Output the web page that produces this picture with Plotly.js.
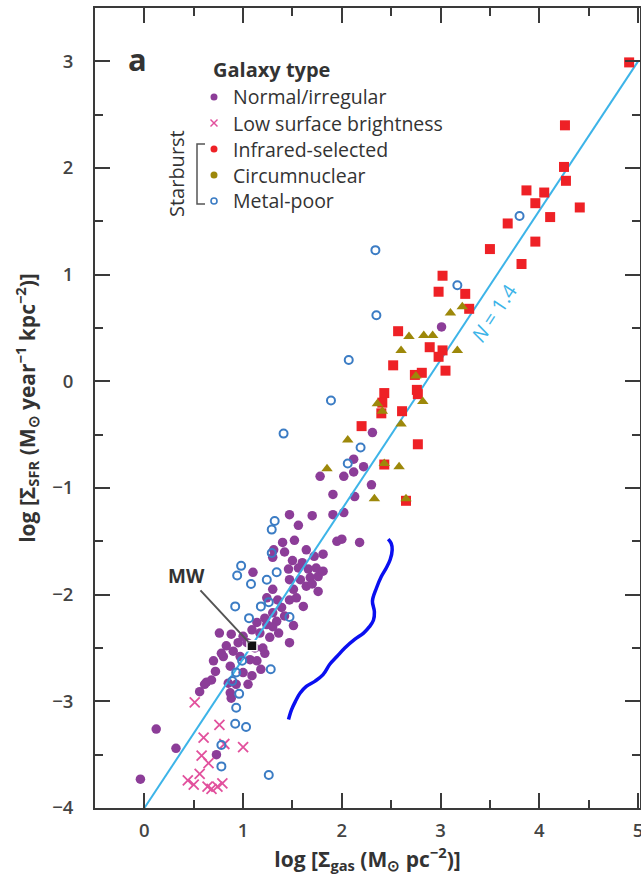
<!DOCTYPE html>
<html>
<head>
<meta charset="utf-8">
<script src="https://cdn.plot.ly/plotly-3.0.1.min.js"></script>
<style>
  html, body { margin: 0; padding: 0; background: #fff; }
  #chart { width: 641px; height: 884px; }
</style>
</head>
<body>
<div id="chart"></div>
<script>
// log Σgas (M⊙ pc^-2), log ΣSFR (M⊙ yr^-1 kpc^-2) per galaxy class
const normalPts = [
  [-0.04,-3.73],[0.12,-3.26],[0.32,-3.44],[0.73,-3.50],[0.56,-2.91],[0.63,-2.82],[0.68,-2.80],[0.88,-2.97],
  [0.61,-2.84],[0.85,-2.83],[0.93,-2.84],[0.87,-2.92],[1.05,-2.84],[1.00,-2.73],[1.09,-2.76],[0.87,-2.67],
  [0.80,-2.58],[0.97,-2.58],[1.07,-2.61],[1.14,-2.62],[0.83,-2.48],[0.90,-2.53],[1.20,-2.50],[1.22,-2.55],
  [0.78,-2.55],[0.76,-2.36],[0.88,-2.37],[1.00,-2.39],[1.09,-2.33],[1.17,-2.36],[1.27,-2.40],[1.36,-2.36],
  [1.47,-2.45],[1.14,-2.26],[1.24,-2.28],[1.34,-2.25],[1.51,-2.29],[1.22,-2.22],[1.30,-2.17],[1.39,-2.12],
  [1.24,-2.03],[1.47,-2.05],[1.54,-2.03],[1.61,-2.11],[1.51,-1.95],[1.64,-1.92],[1.76,-1.97],[1.30,-1.95],
  [1.47,-1.86],[1.58,-1.86],[1.68,-1.84],[1.76,-1.83],[1.10,-1.79],[1.46,-1.76],[1.56,-1.75],[1.66,-1.76],
  [1.74,-1.75],[1.81,-1.78],[1.30,-1.65],[1.42,-1.60],[1.64,-1.58],[1.72,-1.64],[1.81,-1.62],[1.31,-1.58],
  [1.40,-1.51],[1.52,-1.49],[1.95,-1.50],[2.00,-1.48],[2.18,-1.51],[1.47,-1.25],[1.56,-1.35],[1.70,-1.26],
  [1.91,-1.25],[2.02,-1.23],[1.91,-1.06],[2.13,-1.08],[1.78,-0.89],[2.02,-0.89],[2.12,-0.85],[2.22,-0.80],
  [2.12,-0.73],[2.30,-0.97],[2.31,-0.48],[3.01,0.51],[1.04,-2.45],[1.12,-2.50],[1.30,-2.30],[1.42,-2.20],
  [1.35,-2.05],[1.60,-1.70],[1.50,-1.68],[1.70,-1.90],[0.95,-2.45],[1.18,-2.70],[0.70,-2.62],[0.72,-2.72]
];
const lowSurfacePts = [
  [0.51,-3.01],[0.76,-3.22],[0.60,-3.34],[0.81,-3.40],[1.00,-3.43],[0.58,-3.51],[0.65,-3.58],
  [0.56,-3.68],[0.44,-3.74],[0.50,-3.78],[0.64,-3.80],[0.74,-3.80],[0.79,-3.77],[0.68,-3.82]
];
const infraredPts = [
  [4.91,2.99],[4.26,2.40],[4.25,2.01],[4.27,1.88],[3.87,1.79],[4.05,1.77],[3.96,1.67],[4.41,1.63],
  [4.11,1.54],[3.68,1.48],[3.96,1.31],[3.50,1.24],[3.82,1.10],[3.02,0.99],[2.98,0.84],[3.25,0.82],
  [3.29,0.68],[2.57,0.47],[2.89,0.32],[3.02,0.29],[2.98,0.23],[2.52,0.15],[3.05,0.10],[2.74,0.06],
  [2.81,0.08],[2.76,-0.08],[2.77,-0.12],[2.43,-0.11],[2.41,-0.20],[2.40,-0.30],[2.61,-0.28],[2.20,-0.42],
  [2.77,-0.59],[2.43,-0.78],[2.65,-1.12]
];
const circumnuclearPts = [
  [3.10,0.64],[3.22,0.70],[2.68,0.42],[2.83,0.43],[2.92,0.43],[2.60,0.29],[3.17,0.29],[2.75,0.05],
  [2.82,-0.19],[2.36,-0.21],[2.41,-0.28],[2.60,-0.40],[2.06,-0.55],[1.85,-0.82],[2.43,-0.77],[2.58,-0.80],
  [2.33,-1.10],[2.65,-1.10]
];
const metalPoorPts = [
  [3.80,1.55],[3.17,0.90],[2.34,1.23],[2.35,0.62],[2.07,0.20],[1.89,-0.18],[2.19,-0.62],[2.06,-0.77],
  [1.41,-0.49],[1.32,-1.31],[1.29,-1.39],[1.29,-1.61],[0.98,-1.73],[0.94,-1.82],[1.08,-1.90],[1.24,-1.86],
  [1.34,-1.79],[0.92,-2.11],[1.18,-2.11],[1.26,-2.07],[1.06,-2.22],[1.47,-2.21],[0.99,-2.62],[0.93,-2.73],
  [1.28,-2.70],[0.89,-2.81],[0.96,-2.93],[0.93,-3.06],[0.92,-3.21],[1.03,-3.24],[0.78,-3.41],[0.78,-3.61],
  [1.26,-3.69]
];
// Milky Way
const mwX = [1.09];
const mwY = [-2.48];
// Kennicutt–Schmidt relation, slope N = 1.4
const fitX = [0.0, 5.0];
const fitY = [-4.0, 3.0];
// freehand pen stroke
const strokePts = [
  [2.47,-1.48],[2.50,-1.52],[2.51,-1.58],[2.49,-1.67],[2.45,-1.75],[2.40,-1.83],[2.35,-1.94],[2.31,-2.06],
  [2.33,-2.16],[2.32,-2.24],[2.28,-2.30],[2.22,-2.36],[2.13,-2.42],[2.03,-2.50],[1.95,-2.58],[1.88,-2.65],
  [1.81,-2.75],[1.73,-2.81],[1.64,-2.86],[1.58,-2.92],[1.53,-3.00],[1.49,-3.08],[1.46,-3.17]
];
const xTicks = [0, 1, 2, 3, 4, 5];
const yTicks = [-4, -3, -2, -1, 0, 1, 2, 3];
const legendNames = ['Normal/irregular', 'Low surface brightness', 'Infrared-selected', 'Circumnuclear', 'Metal-poor'];

const COL = {
  normal: '#8c3d98',
  lsb: '#e2519d',
  ir: '#ee2126',
  circ: '#9d880a',
  metal: '#3b7cc4',
  fit: '#3db4e8',
  axis: '#3a3a3a',
  text: '#333333'
};
const FONT = 'Open Sans, Noto Sans, sans-serif';

const xs = p => p.map(d => d[0]);
const ys = p => p.map(d => d[1]);

const traces = [
  { x: xs(normalPts), y: ys(normalPts), mode: 'markers', type: 'scatter', name: legendNames[0],
    marker: { symbol: 'circle', size: 9.5, color: COL.normal } },
  { x: xs(lowSurfacePts), y: ys(lowSurfacePts), mode: 'markers', type: 'scatter', name: legendNames[1],
    marker: { symbol: 'x-thin', size: 10, line: { width: 1.8, color: COL.lsb }, color: COL.lsb } },
  { x: fitX, y: fitY, mode: 'lines', type: 'scatter', name: 'N = 1.4',
    line: { color: COL.fit, width: 2 } },
  { x: xs(infraredPts), y: ys(infraredPts), mode: 'markers', type: 'scatter', name: legendNames[2],
    marker: { symbol: 'square', size: 10, color: COL.ir } },
  { x: xs(circumnuclearPts), y: ys(circumnuclearPts), mode: 'markers', type: 'scatter', name: legendNames[3],
    marker: { symbol: 'triangle-up', size: 10, color: COL.circ } },
  { x: xs(metalPoorPts), y: ys(metalPoorPts), mode: 'markers', type: 'scatter', name: legendNames[4],
    marker: { symbol: 'circle-open', size: 8, line: { width: 2, color: COL.metal }, color: COL.metal } },
  { x: mwX, y: mwY, mode: 'markers', type: 'scatter', name: 'MW',
    marker: { symbol: 'square', size: 10, color: '#111', line: { width: 1.5, color: '#fff' } } },
  { x: xs(strokePts), y: ys(strokePts), mode: 'lines', type: 'scatter', name: 'stroke',
    line: { color: '#0a0ff0', width: 3.5, shape: 'spline' } }
];

// ---- figure key: hand-set block in the upper left of the panel ----
const PLOT = { l: 95, t: 8, w: 545, h: 800 };
const px2x = p => (p - PLOT.l) / PLOT.w;
const px2y = p => 1 - (p - PLOT.t) / PLOT.h;
const keyRowsPx = [97, 123, 149, 175, 201];
const keyMarkX = px2x(214);
const keyTextX = px2x(231);

const keyShapes = [];
keyRowsPx.forEach((rowPx, i) => {
  const base = { xref: 'paper', yref: 'paper', xsizemode: 'pixel', ysizemode: 'pixel',
    xanchor: keyMarkX, yanchor: px2y(rowPx) };
  const r = 3.5;
  if (i === 1) {
    keyShapes.push(Object.assign({}, base, { type: 'line', x0: -r, x1: r, y0: -r, y1: r,
      line: { color: COL.lsb, width: 1.5 } }));
    keyShapes.push(Object.assign({}, base, { type: 'line', x0: -r, x1: r, y0: r, y1: -r,
      line: { color: COL.lsb, width: 1.5 } }));
  } else if (i === 4) {
    keyShapes.push(Object.assign({}, base, { type: 'circle', x0: -3, x1: 3, y0: -3, y1: 3,
      fillcolor: '#fff', line: { color: COL.metal, width: 1.6 } }));
  } else {
    const c = [COL.normal, null, COL.ir, COL.circ][i];
    keyShapes.push(Object.assign({}, base, { type: 'circle', x0: -r, x1: r, y0: -r, y1: r,
      fillcolor: c, line: { width: 0 } }));
  }
});
// bracket grouping the starburst classes
keyShapes.push({ type: 'path', xref: 'paper', yref: 'paper',
  path: `M ${px2x(205)} ${px2y(144)} L ${px2x(197)} ${px2y(144)} L ${px2x(197)} ${px2y(204)} L ${px2x(205)} ${px2y(204)}`,
  line: { color: '#555', width: 1.5 } });

const keyTexts = legendNames.map((name, i) => ({
  xref: 'paper', yref: 'paper', x: keyTextX, y: px2y(keyRowsPx[i]), xanchor: 'left', yanchor: 'middle',
  text: name, showarrow: false, font: { family: FONT, size: 19.5, color: COL.text }
}));

const axisCommon = {
  showgrid: false, zeroline: false, showline: true, linecolor: COL.axis, linewidth: 2,
  mirror: 'ticks', ticks: 'inside', ticklen: 15, tickwidth: 2, tickcolor: COL.axis,
  ticklabeloverflow: 'allow',
  tickfont: { family: FONT, size: 18.5, color: '#444', weight: 600 },
  minor: { dtick: 0.5, ticks: 'inside', ticklen: 8, tickwidth: 2, tickcolor: COL.axis }
};

const layout = {
  width: 641, height: 884,
  margin: { l: 95, r: 1, t: 8, b: 76 },
  paper_bgcolor: '#fff', plot_bgcolor: '#fff',
  font: { family: FONT, color: COL.text },
  showlegend: false,
  xaxis: Object.assign({}, axisCommon, {
    range: [-0.5, 5.02], tickvals: xTicks, ticklabelstandoff: 5,
    title: { text: 'log [Σ<sub>gas</sub> (M<sub>⊙</sub> pc<sup>−2</sup>)]',
      font: { family: FONT, size: 21, color: COL.text, weight: 700 }, standoff: 8 }
  }),
  yaxis: Object.assign({}, axisCommon, {
    range: [-4, 3.5], tickvals: yTicks, ticklabelstandoff: 16,
    title: { text: 'log [Σ<sub>SFR</sub> (M<sub>⊙</sub> year<sup>−1</sup> kpc<sup>−2</sup>)]',
      font: { family: FONT, size: 21, color: COL.text, weight: 700 }, standoff: 11 }
  }),
  annotations: [
    { xref: 'paper', yref: 'paper', x: px2x(137), y: px2y(59), xanchor: 'center', yanchor: 'middle',
      text: '<b>a</b>', showarrow: false, font: { family: FONT, size: 31, color: COL.text } },
    { xref: 'paper', yref: 'paper', x: px2x(211), y: px2y(69), xanchor: 'left', yanchor: 'middle',
      text: '<b>Galaxy type</b>', showarrow: false, font: { family: FONT, size: 20, color: COL.text } },
    { xref: 'paper', yref: 'paper', x: px2x(176), y: px2y(174), xanchor: 'center', yanchor: 'middle',
      text: 'Starburst', textangle: -90, showarrow: false,
      font: { family: FONT, size: 20, color: COL.text } },
    { x: mwX[0], y: mwY[0], text: '<b>MW</b>', showarrow: true, arrowhead: 0, arrowwidth: 2,
      arrowcolor: '#555', ax: -65, ay: -70, standoff: 4,
      font: { family: FONT, size: 19, color: COL.text } },
    { x: 3.54, y: 0.65, text: '<i>N</i> = 1.4', textangle: -56.5, showarrow: false,
      font: { family: FONT, size: 20, color: COL.fit } }
  ].concat(keyTexts),
  shapes: keyShapes
};

Plotly.newPlot('chart', traces, layout, { displayModeBar: false, staticPlot: true });
</script>
</body>
</html>
